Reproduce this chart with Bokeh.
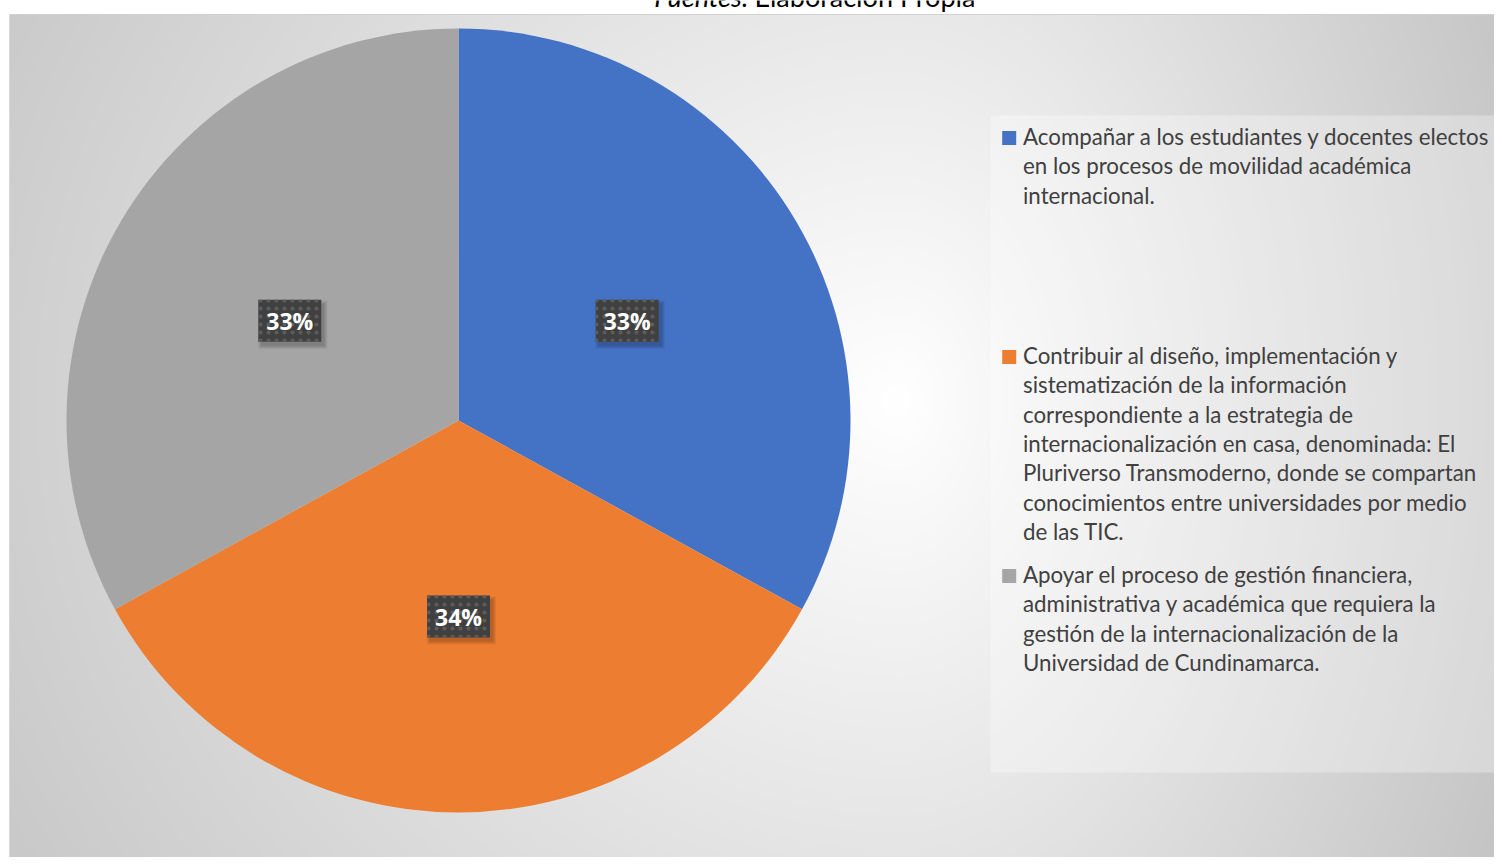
import numpy as np
from bokeh.plotting import figure
from bokeh.models import Range1d, ColumnDataSource
from bokeh.core.properties import value
from bokeh.embed import file_html
from bokeh.resources import INLINE

# ---------------- data ----------------
categories = [
    "Acompañar a los estudiantes y docentes electos en los procesos de movilidad académica internacional.",
    "Contribuir al diseño, implementación y sistematización de la información correspondiente a la estrategia de internacionalización en casa, denominada: El Pluriverso Transmoderno, donde se compartan conocimientos entre universidades por medio de las TIC.",
    "Apoyar el proceso de gestión financiera, administrativa y académica que requiera la gestión de la internacionalización de la Universidad de Cundinamarca.",
]
legend_lines = [
    ["Acompañar a los estudiantes y docentes electos",
     "en los procesos de movilidad académica",
     "internacional."],
    ["Contribuir al diseño, implementación y",
     "sistematización de la información",
     "correspondiente a la estrategia de",
     "internacionalización en casa, denominada: El",
     "Pluriverso Transmoderno, donde se compartan",
     "conocimientos entre universidades por medio",
     "de las TIC."],
    ["Apoyar el proceso de gestión financiera,",
     "administrativa y académica que requiera la",
     "gestión de la internacionalización de la",
     "Universidad de Cundinamarca."],
]
values = [33, 34, 33]
colors = ["#4472C4", "#ED7D31", "#A5A5A5"]
source_italic = "Fuentes:"
source_rest = "Elaboración Propia"

# ---------------- layout ----------------
W, H = 1494, 857
def py(y_img):
    return H - y_img

p = figure(width=W, height=H, output_backend="svg", toolbar_location=None,
           x_range=Range1d(0, W), y_range=Range1d(0, H),
           min_border=0, background_fill_color="white", border_fill_color="white")
p.axis.visible = False
p.grid.visible = False
p.outline_line_color = None

# background gradient (chart area)
GW, GH = 743, 422
xs = np.linspace(9, W, GW)
ys = np.linspace(H, 14, GH)
X, Y = np.meshgrid(xs, ys)
dx = X - 900
sx = np.where(dx < 0, 978.0, 596.0)
t = np.sqrt((dx / sx) ** 2 + ((Y - 400) / 900.0) ** 2)
g = np.clip(255 - 52 * t, 0, 255).astype(np.uint8)
img = np.empty((GH, GW), dtype=np.uint32)
view = img.view(dtype=np.uint8).reshape((GH, GW, 4))
view[..., 0] = g
view[..., 1] = g
view[..., 2] = g
view[..., 3] = 255
p.image_rgba(image=[img], x=9, y=0, dw=W - 9, dh=py(14))
p.segment(x0=[9], y0=[py(14)], x1=[W], y1=[py(14)], line_color="#d0d0d0", line_width=1)
p.segment(x0=[9], y0=[0], x1=[9], y1=[py(14)], line_color="#d8d8d8", line_width=1)

# source text (cut at top, as in the reference)
p.text(x=[748], y=[py(-4)], text=[source_italic], text_font=value("Lato"),
       text_font_style="italic", text_font_size="27px", text_color="#000000",
       text_align="right", text_baseline="alphabetic")
p.text(x=[754], y=[py(-4)], text=[source_rest], text_font=value("Lato"),
       text_font_size="27px", text_color="#000000",
       text_align="left", text_baseline="alphabetic")

# pie
cx, cy, R = 458, py(420), 392
total = float(sum(values))
fr = np.array(values) / total
cum = np.concatenate([[0], np.cumsum(fr)])
start = np.pi / 2 - cum[:-1] * 2 * np.pi
end = np.pi / 2 - cum[1:] * 2 * np.pi
src = ColumnDataSource(dict(start=start, end=end, color=colors, cat=categories))
p.wedge(x=cx, y=cy, radius=R, start_angle="start", end_angle="end", direction="clock",
        fill_color="color", line_color=None, source=src)

# data labels
mid = (start + end) / 2
lx = cx + 0.5 * R * np.cos(mid)
ly = cy + 0.5 * R * np.sin(mid)
labels = [f"{v}%" for v in values]
bw, bh = 63, 42
for k in range(4):
    p.rect(x=lx + 3, y=ly - 4, width=bw + 2 * k, height=bh + 2 * k,
           fill_color="black", fill_alpha=0.06, line_color=None)
p.rect(x=lx, y=ly, width=bw, height=bh, fill_color="#404040", line_color=None,
       hatch_pattern="dot", hatch_color="#5c5c5c", hatch_scale=8, hatch_weight=2)
p.text(x=lx, y=ly, text=labels, text_font=value("Open Sans"), text_font_style="bold",
       text_font_size="23px", text_color="white", text_align="center", text_baseline="middle")

# legend
p.quad(left=[990], right=[1500], top=[py(115)], bottom=[py(772)],
       fill_color="white", fill_alpha=0.3, line_color=None)
entry_top = [137.5, 356.5, 575.5]
pitch = 29.35
for i, lines in enumerate(legend_lines):
    y0 = entry_top[i]
    p.rect(x=[1008.7], y=[py(y0)], width=14, height=14, fill_color=colors[i], line_color=None)
    ys_l = [py(y0 - 1.5 + j * pitch) for j in range(len(lines))]
    p.text(x=[1022.5] * len(lines), y=ys_l, text=lines, text_font=value("Lato"),
           text_font_size="22.3px", text_color="#404040", text_align="left",
           text_baseline="middle")

open("out.html", "w").write(file_html(p, INLINE))
